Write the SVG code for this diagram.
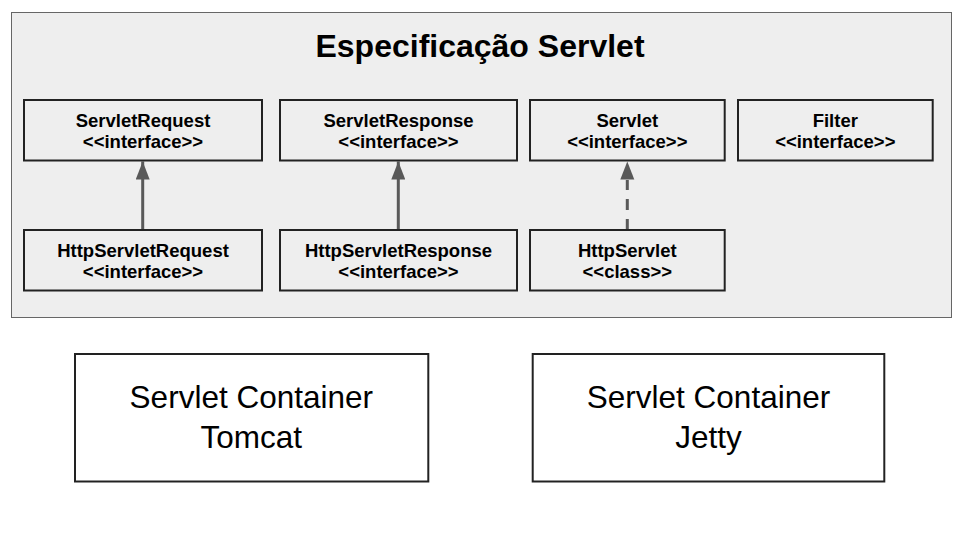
<svg xmlns="http://www.w3.org/2000/svg" width="960" height="540" viewBox="0 0 960 540">
<style>
.box{fill:none;stroke:#222;stroke-width:2}
.t{font-family:"Liberation Sans",Arial,sans-serif;font-weight:bold;font-size:18.5px;fill:#000;text-anchor:middle}
.big{font-family:"Liberation Sans",Arial,sans-serif;font-size:31.5px;fill:#000;text-anchor:middle}
.conn{stroke:#595959;stroke-width:3;fill:none}
</style>
<defs>
<marker id="ah" viewBox="0 0 18 14" refX="18" refY="7" markerWidth="18" markerHeight="14" markerUnits="userSpaceOnUse" orient="auto">
<path d="M0,0 L18,7 L0,14 Z" fill="#595959"/>
</marker>
</defs>
<rect width="960" height="540" fill="#fff"/>
<g id="spec">
<rect x="11.5" y="12.5" width="940" height="305" fill="#eeeeee" stroke="#666" stroke-width="1"/>
<text x="480" y="57" font-family="'Liberation Sans',Arial,sans-serif" font-weight="bold" font-size="32" text-anchor="middle" fill="#000">Especificação Servlet</text>
</g>
<g id="connectors">
<line class="conn" x1="142.7" y1="230" x2="142.7" y2="161.5" marker-end="url(#ah)"/>
<line class="conn" x1="398.3" y1="230" x2="398.3" y2="161.5" marker-end="url(#ah)"/>
<line class="conn" x1="627.3" y1="230" x2="627.3" y2="180" stroke-dasharray="11 9"/>
<path d="M620.3,179.5 L627.3,161.5 L634.3,179.5 Z" fill="#595959"/>
</g>
<g id="servletrequest">
<rect class="box" x="24" y="100" width="238" height="60.5"/>
<text class="t" x="143" y="126.7">ServletRequest</text>
<text class="t" x="143" y="147.5">&lt;&lt;interface&gt;&gt;</text>
</g>
<g id="servletresponse">
<rect class="box" x="280" y="100" width="237" height="60.5"/>
<text class="t" x="398.5" y="126.7">ServletResponse</text>
<text class="t" x="398.5" y="147.5">&lt;&lt;interface&gt;&gt;</text>
</g>
<g id="servlet">
<rect class="box" x="530" y="100" width="194.7" height="60.5"/>
<text class="t" x="627.3" y="126.7">Servlet</text>
<text class="t" x="627.3" y="147.5">&lt;&lt;interface&gt;&gt;</text>
</g>
<g id="filter">
<rect class="box" x="738" y="100" width="194.7" height="60.5"/>
<text class="t" x="835.3" y="126.7">Filter</text>
<text class="t" x="835.3" y="147.5">&lt;&lt;interface&gt;&gt;</text>
</g>
<g id="httpservletrequest">
<rect class="box" x="24" y="230" width="238" height="60.5"/>
<text class="t" x="143" y="256.7">HttpServletRequest</text>
<text class="t" x="143" y="277.5">&lt;&lt;interface&gt;&gt;</text>
</g>
<g id="httpservletresponse">
<rect class="box" x="280" y="230" width="237" height="60.5"/>
<text class="t" x="398.5" y="256.7">HttpServletResponse</text>
<text class="t" x="398.5" y="277.5">&lt;&lt;interface&gt;&gt;</text>
</g>
<g id="httpservlet">
<rect class="box" x="530" y="230" width="194.7" height="60.5"/>
<text class="t" x="627.3" y="256.7">HttpServlet</text>
<text class="t" x="627.3" y="277.5">&lt;&lt;class&gt;&gt;</text>
</g>
<g id="tomcat">
<rect class="box" x="75" y="354" width="353.3" height="127.5"/>
<text class="big" x="251.3" y="408.3">Servlet Container</text>
<text class="big" x="251.3" y="448.3">Tomcat</text>
</g>
<g id="jetty">
<rect class="box" x="532.7" y="354" width="351.6" height="127.5"/>
<text class="big" x="708.5" y="408.3">Servlet Container</text>
<text class="big" x="708.5" y="448.3">Jetty</text>
</g>
</svg>
